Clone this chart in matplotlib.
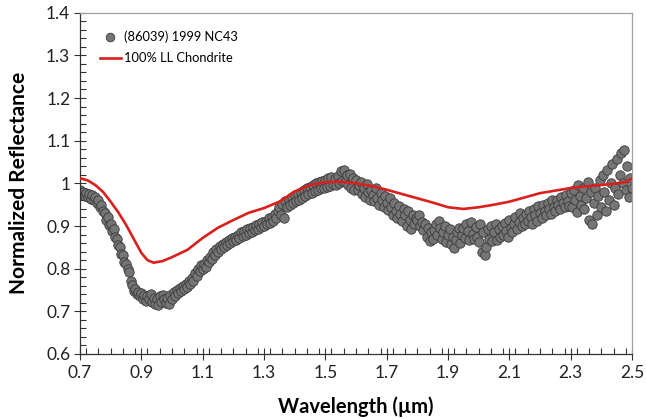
import numpy as np
import matplotlib
matplotlib.use("Agg")
import matplotlib.pyplot as plt
from matplotlib.lines import Line2D
from matplotlib.ticker import MultipleLocator, FixedLocator, FixedFormatter

# ---------------- data ----------------
# asteroid spectrum, sampled every 0.005 um from 0.70 to 2.50
wl_start, wl_stop = 0.70, 2.50
ast_refl = [
    0.985, 0.975, 0.980, 0.970, 0.978, 0.968, 0.975, 0.963, 0.972, 0.960,
    0.968, 0.955, 0.962, 0.945, 0.950, 0.935, 0.930, 0.915, 0.920, 0.902,
    0.905, 0.888, 0.892, 0.875, 0.870, 0.855, 0.850, 0.835, 0.832, 0.815,
    0.812, 0.800, 0.792, 0.770, 0.762, 0.748, 0.752, 0.740, 0.745, 0.735,
    0.742, 0.730, 0.738, 0.725, 0.735, 0.728, 0.740, 0.722, 0.732, 0.718,
    0.728, 0.715, 0.735, 0.722, 0.738, 0.728, 0.720, 0.732, 0.718, 0.738,
    0.728, 0.745, 0.735, 0.750, 0.742, 0.755, 0.748, 0.760, 0.752, 0.765,
    0.758, 0.772, 0.765, 0.778, 0.772, 0.790, 0.782, 0.800, 0.795, 0.808,
    0.800, 0.812, 0.805, 0.820, 0.815, 0.828, 0.822, 0.838, 0.832, 0.845,
    0.838, 0.852, 0.845, 0.858, 0.850, 0.862, 0.855, 0.868, 0.860, 0.872,
    0.865, 0.875, 0.868, 0.880, 0.872, 0.885, 0.876, 0.888, 0.880, 0.892,
    0.884, 0.895, 0.886, 0.898, 0.890, 0.902, 0.893, 0.905, 0.897, 0.910,
    0.900, 0.912, 0.904, 0.918, 0.908, 0.922, 0.912, 0.928, 0.918, 0.935,
    0.945, 0.925, 0.952, 0.918, 0.958, 0.945, 0.962, 0.950, 0.968, 0.955,
    0.972, 0.958, 0.975, 0.962, 0.980, 0.965, 0.985, 0.970, 0.988, 0.975,
    0.992, 0.978, 0.996, 0.982, 1.000, 0.985, 1.004, 0.988, 1.006, 0.990,
    1.008, 0.992, 1.012, 0.994, 1.015, 0.998, 1.010, 0.995, 1.018, 1.000,
    1.028, 1.005, 1.032, 1.002, 1.020, 0.995, 1.022, 0.990, 1.012, 0.985,
    1.008, 0.985, 0.995, 1.002, 0.975, 0.990, 0.968, 0.998, 0.980, 0.962,
    0.985, 0.972, 0.958, 0.988, 0.965, 0.950, 0.978, 0.960, 0.945, 0.970,
    0.955, 0.938, 0.965, 0.945, 0.925, 0.955, 0.935, 0.918, 0.948, 0.928,
    0.912, 0.940, 0.925, 0.900, 0.935, 0.915, 0.892, 0.925, 0.905, 0.918,
    0.915, 0.925, 0.900, 0.910, 0.890, 0.905, 0.875, 0.895, 0.865, 0.885,
    0.870, 0.890, 0.905, 0.878, 0.912, 0.895, 0.870, 0.885, 0.900, 0.862,
    0.880, 0.892, 0.858, 0.875, 0.848, 0.868, 0.885, 0.895, 0.860, 0.878,
    0.895, 0.872, 0.905, 0.888, 0.868, 0.910, 0.882, 0.870, 0.898, 0.875,
    0.862, 0.905, 0.840, 0.885, 0.832, 0.850, 0.892, 0.870, 0.900, 0.865,
    0.885, 0.905, 0.868, 0.892, 0.875, 0.900, 0.880, 0.908, 0.888, 0.875,
    0.915, 0.895, 0.885, 0.905, 0.920, 0.892, 0.910, 0.930, 0.900, 0.918,
    0.905, 0.928, 0.912, 0.935, 0.920, 0.905, 0.940, 0.925, 0.912, 0.948,
    0.930, 0.918, 0.950, 0.935, 0.925, 0.955, 0.940, 0.928, 0.960, 0.945,
    0.935, 0.962, 0.950, 0.940, 0.968, 0.955, 0.945, 0.972, 0.958, 0.948,
    0.978, 0.945, 0.985, 0.962, 0.932, 0.995, 0.970, 0.950, 0.988, 0.940,
    0.965, 1.002, 0.915, 0.980, 0.905, 0.955, 0.990, 0.925, 0.970, 1.008,
    0.945, 1.020, 0.980, 0.935, 1.032, 0.960, 1.000, 1.045, 0.950, 0.990,
    1.058, 0.975, 1.020, 1.070, 1.000, 1.078, 0.985, 1.040, 0.968, 1.012,
    0.990,
]
ast_wl = np.linspace(wl_start, wl_stop, len(ast_refl))

# LL chondrite model spectrum
ll_wl = [0.70, 0.725, 0.75, 0.775, 0.80, 0.825, 0.85, 0.875, 0.90, 0.92,
         0.94, 0.97, 1.00, 1.05, 1.10, 1.15, 1.20, 1.25, 1.30, 1.35,
         1.40, 1.45, 1.50, 1.55, 1.60, 1.65, 1.70, 1.75, 1.80, 1.85,
         1.90, 1.95, 2.00, 2.05, 2.10, 2.15, 2.20, 2.25, 2.30, 2.35,
         2.40, 2.45, 2.48, 2.50]
ll_refl = [1.012, 1.007, 0.996, 0.980, 0.957, 0.932, 0.903, 0.870, 0.837, 0.820,
           0.814, 0.818, 0.827, 0.844, 0.872, 0.896, 0.914, 0.931, 0.942, 0.957,
           0.981, 0.996, 1.003, 1.004, 1.000, 0.994, 0.985, 0.975, 0.965, 0.955,
           0.944, 0.940, 0.944, 0.950, 0.957, 0.967, 0.977, 0.983, 0.989, 0.993,
           0.996, 1.000, 1.003, 1.012]

x_ticks = [0.7, 0.9, 1.1, 1.3, 1.5, 1.7, 1.9, 2.1, 2.3, 2.5]
x_tick_labels = ["0.7", "0.9", "1.1", "1.3", "1.5", "1.7", "1.9", "2.1", "2.3", "2.5"]
y_ticks = [0.6, 0.7, 0.8, 0.9, 1.0, 1.1, 1.2, 1.3, 1.4]
y_tick_labels = ["0.6", "0.7", "0.8", "0.9", "1", "1.1", "1.2", "1.3", "1.4"]

ast_label = "(86039) 1999 NC43"
ll_label = "100% LL Chondrite"

# ---------------- plot ----------------
plt.rcParams['font.family'] = ['Lato', 'DejaVu Sans']

fig = plt.figure(figsize=(6.46, 4.19), dpi=100)
ax = fig.add_axes([80 / 646, 1 - 354 / 419, 552 / 646, (354 - 12.7) / 419])

ax.scatter(ast_wl, ast_refl, s=46, facecolor="#757575", edgecolor="#3a3a3a",
           linewidths=0.6, zorder=2)
ax.plot(ll_wl, ll_refl, color="#d9201c", lw=1.9, zorder=3)

ax.set_xlim(0.7, 2.5)
ax.set_ylim(0.6, 1.4)
ax.xaxis.set_major_locator(FixedLocator(x_ticks))
ax.xaxis.set_major_formatter(FixedFormatter(x_tick_labels))
ax.yaxis.set_major_locator(FixedLocator(y_ticks))
ax.yaxis.set_major_formatter(FixedFormatter(y_tick_labels))
ax.xaxis.set_minor_locator(MultipleLocator(0.04))
ax.yaxis.set_minor_locator(MultipleLocator(0.02))

ax.tick_params(which="major", direction="inout", length=8, width=0.8,
               colors="#333333", labelsize=12.5, labelcolor="#222222")
ax.tick_params(which="minor", direction="in", length=4, width=0.8, colors="#333333")
ax.tick_params(axis="x", which="major", pad=4)
ax.tick_params(axis="y", which="major", pad=3)

for side in ("left", "bottom"):
    ax.spines[side].set_color("#333333")
    ax.spines[side].set_linewidth(0.9)
for side in ("top", "right"):
    ax.spines[side].set_color("#a0a0a0")
    ax.spines[side].set_linewidth(0.9)

ax.set_xlabel("Wavelength (\u00b5m)", fontsize=14.5, fontweight="bold", labelpad=11)
ax.set_ylabel("Normalized Reflectance", fontsize=15, fontweight="bold", labelpad=12)

handles = [
    Line2D([], [], marker="o", ls="none", markersize=6.2, markerfacecolor="#757575",
           markeredgecolor="#3a3a3a", markeredgewidth=0.6),
    Line2D([], [], color="#d9201c", lw=1.9),
]
ax.legend(handles, [ast_label, ll_label], loc="upper left",
          bbox_to_anchor=(0.027, 0.962), frameon=False, fontsize=9.3,
          handlelength=1.6, handletextpad=0.25, labelspacing=0.7, borderaxespad=0)

fig.savefig("out.png", dpi=100)
